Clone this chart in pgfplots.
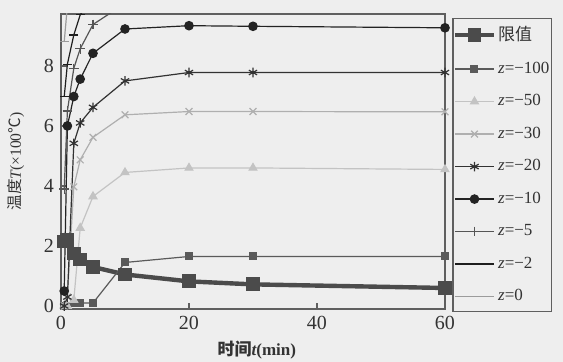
\documentclass[border=0pt]{standalone}
\usepackage{fontspec}
\setmainfont{Liberation Serif}
\newfontfamily\cjk{Noto Sans CJK SC}
\usepackage{pgfplots}
\pgfplotsset{compat=1.18}
\definecolor{bg}{RGB}{238,238,238}
\definecolor{frame}{RGB}{95,95,95}
\definecolor{climit}{RGB}{75,75,75}
\definecolor{c100}{RGB}{90,90,90}
\definecolor{c50}{RGB}{195,195,195}
\definecolor{c30}{RGB}{175,175,175}
\definecolor{c20}{RGB}{50,50,50}
\definecolor{c10}{RGB}{35,35,35}
\definecolor{c5}{RGB}{85,85,85}
\definecolor{c2}{RGB}{30,30,30}
\definecolor{c0}{RGB}{155,155,155}
\begin{document}
\begin{tikzpicture}
\path[use as bounding box, fill=bg] (-30.5pt,-26.5pt) rectangle (251pt,154.5pt);
\begin{axis}[
  at={(0,0)}, anchor=south west,
  scale only axis, width=192pt, height=147.5pt,
  xmin=0, xmax=60, ymin=-0.1, ymax=9.73,
  xtick={0,20,40,60}, ytick={0,2,4,6,8},
  xtick pos=bottom, ytick pos=left, tick align=inside,
  axis line style={draw=frame, line width=0.9pt},
  major tick style={frame, line width=0.6pt},
  major tick length=3pt,
  /pgf/number format/assume math mode=true,
  tick label style={font=\fontsize{10}{12}\selectfont, text=black!80},
  xlabel={\bfseries\cjk 时间\rmfamily\itshape t\upshape(min)},
  ylabel={\cjk 温度\rmfamily\itshape T\upshape(×100\cjk ℃\rmfamily)},
  every axis x label/.style={at={(axis description cs:0.51,0)}, yshift=-20.5pt, anchor=center,
    font=\fontsize{8.5}{10}\selectfont, text=black!80},
  every axis y label/.style={at={(axis description cs:0,0.5)}, xshift=-22.5pt, rotate=90, anchor=center,
    font=\fontsize{7.8}{9}\selectfont, text=black!80},
  legend image code/.code={\draw[mark repeat=2,mark phase=2,#1] plot coordinates {(0pt,0pt) (9.75pt,0pt) (19.5pt,0pt)};},
  legend style={at={([xshift=3.5pt,yshift=-1.75pt]1,0.5)}, anchor=west, draw=frame, line width=0.8pt, fill=bg,
    font=\fontsize{8.5}{10}\selectfont, row sep=5.1pt, inner xsep=0pt, inner ysep=2pt,
    nodes={text=black!80, inner xsep=1pt}},
  legend cell align=left,
]
\addplot[climit, line width=2.2pt, mark=square*, mark size=3.2pt, mark options={solid, line width=0.5pt}]
  coordinates {(0.5,2.15) (1,2.2) (2,1.75) (3,1.55) (5,1.3) (10,1.05) (20,0.82) (30,0.72) (60,0.6)};
\addlegendentry{\cjk 限值}
\addplot[c100, line width=0.6pt, mark=square*, mark size=1.7pt]
  coordinates {(0.5,0) (1,0) (2,0.1) (3,0.1) (5,0.1) (10,1.45) (20,1.65) (30,1.65) (60,1.65)};
\addlegendentry{\textit{z}=−100}
\addplot[c50, line width=0.6pt, mark=triangle*, mark size=2.2pt]
  coordinates {(0.5,0) (1,0) (2,0.2) (3,2.6) (5,3.65) (10,4.45) (20,4.6) (30,4.6) (60,4.55)};
\addlegendentry{\textit{z}=−50}
\addplot[c30, line width=0.6pt, mark=x, mark size=2.4pt]
  coordinates {(0.5,0) (1,0.3) (2,3.97) (3,4.87) (5,5.62) (10,6.37) (20,6.48) (30,6.48) (60,6.47)};
\addlegendentry{\textit{z}=−30}
\addplot[c20, line width=0.6pt, mark=asterisk, mark size=2.4pt]
  coordinates {(0.5,0) (1,0.3) (2,5.42) (3,6.1) (5,6.62) (10,7.5) (20,7.78) (30,7.78) (60,7.78)};
\addlegendentry{\textit{z}=−20}
\addplot[c10, line width=0.6pt, mark=*, mark size=2.1pt]
  coordinates {(0.5,0.5) (1,6.0) (2,6.98) (3,7.56) (5,8.42) (10,9.23) (20,9.34) (30,9.32) (60,9.27)};
\addlegendentry{\textit{z}=−10}
\addplot[c5, line width=0.6pt, mark=+, mark size=2.4pt]
  coordinates {(0.5,3.9) (1,6.5) (2,7.92) (3,8.57) (5,9.38) (10,10.08) (20,10.2) (30,10.2) (60,10.2)};
\addlegendentry{\textit{z}=−5}
\addplot[c2, line width=0.6pt, mark=-, mark size=2.2pt]
  coordinates {(0.5,6.97) (1,8.06) (2,9.03) (3,9.7) (5,10.3) (10,10.6) (20,10.7) (30,10.7) (60,10.7)};
\addlegendentry{\textit{z}=−2}
\addplot[c0, line width=0.6pt, mark=-, mark size=2.2pt]
  coordinates {(0.5,8.8) (1,10.0) (2,10.4) (3,10.6) (5,10.8) (10,10.9) (20,11) (30,11) (60,11)};
\addlegendentry{\textit{z}=0}
\end{axis}
\end{tikzpicture}
\end{document}
